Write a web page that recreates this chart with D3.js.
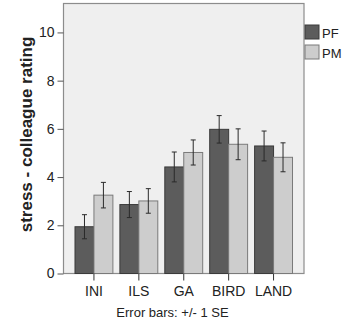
<!DOCTYPE html>
<html>
<head>
<meta charset="utf-8">
<script src="https://cdn.jsdelivr.net/npm/d3@7"></script>
<style>
  body { margin: 0; background: #fff; }
  text { font-family: "Liberation Sans", Arial, sans-serif; fill: #222; }
</style>
</head>
<body>
<svg id="chart"></svg>
<script>
const categories = ["INI", "ILS", "GA", "BIRD", "LAND"];
const groups = ["PF", "PM"];
const meanPF = [1.94, 2.86, 4.42, 5.98, 5.29];
const meanPM = [3.25, 3.01, 5.02, 5.36, 4.82];
const sePF = [0.50, 0.54, 0.62, 0.57, 0.62];
const sePM = [0.53, 0.51, 0.52, 0.64, 0.60];
const yTicks = [0, 2, 4, 6, 8, 10];

const W = 346, H = 323;
const plotL = 63.5, plotR = 304, plotT = 3.5, plotB = 273.5;

const svg = d3.select("#chart")
    .attr("width", W)
    .attr("height", H);

const x = d3.scaleBand()
    .domain(categories)
    .range([plotL, plotR])
    .paddingInner(0.156)
    .paddingOuter(0.256);

const xSub = d3.scaleBand()
    .domain(groups)
    .range([0, x.bandwidth()]);

const y = d3.scaleLinear()
    .domain([0, 11.2])
    .range([plotB, plotT]);

const fills = { PF: "#5c5c5c", PM: "#cdcdcd" };
const strokes = { PF: "#3a3a3a", PM: "#7a7a7a" };

// plot background
svg.append("rect")
    .attr("x", plotL).attr("y", plotT)
    .attr("width", plotR - plotL).attr("height", plotB - plotT)
    .attr("fill", "#efefef")
    .attr("stroke", "#8c8c8c")
    .attr("stroke-width", 1.2);

const rows = categories.map((c, i) => ({
    cat: c,
    vals: [
        { g: "PF", m: meanPF[i], se: sePF[i] },
        { g: "PM", m: meanPM[i], se: sePM[i] }
    ]
}));

const grp = svg.selectAll(".grp")
    .data(rows)
    .join("g")
    .attr("transform", d => `translate(${x(d.cat)},0)`);

grp.selectAll("rect")
    .data(d => d.vals)
    .join("rect")
    .attr("x", d => xSub(d.g))
    .attr("y", d => y(d.m))
    .attr("width", xSub.bandwidth())
    .attr("height", d => y(0) - y(d.m))
    .attr("fill", d => fills[d.g])
    .attr("stroke", d => strokes[d.g])
    .attr("stroke-width", 1);

// error bars
const eb = grp.selectAll(".eb")
    .data(d => d.vals)
    .join("g")
    .attr("class", "eb")
    .attr("stroke", "#2a2a2a")
    .attr("stroke-width", 1);

eb.append("line")
    .attr("x1", d => xSub(d.g) + xSub.bandwidth() / 2)
    .attr("x2", d => xSub(d.g) + xSub.bandwidth() / 2)
    .attr("y1", d => y(d.m - d.se))
    .attr("y2", d => y(d.m + d.se));

eb.selectAll(".cap")
    .data(d => [d.m - d.se, d.m + d.se].map(v => ({ g: d.g, v })))
    .join("line")
    .attr("x1", d => xSub(d.g) + xSub.bandwidth() / 2 - 2.5)
    .attr("x2", d => xSub(d.g) + xSub.bandwidth() / 2 + 2.5)
    .attr("y1", d => y(d.v))
    .attr("y2", d => y(d.v));

// axes
const yAxis = svg.append("g")
    .attr("transform", `translate(${plotL},0)`)
    .call(d3.axisLeft(y).tickValues(yTicks).tickSize(6).tickSizeOuter(0).tickPadding(3));
yAxis.select(".domain").remove();
yAxis.selectAll("line").attr("stroke", "#555");
yAxis.selectAll("text").attr("font-size", 14).style("fill", "#222");

const xAxis = svg.append("g")
    .attr("transform", `translate(0,${plotB})`)
    .call(d3.axisBottom(x).tickSize(7).tickSizeOuter(0).tickPadding(6));
xAxis.select(".domain").remove();
xAxis.selectAll("line").attr("stroke", "#333");
xAxis.selectAll("text").attr("font-size", 14).style("fill", "#222");

// y title
svg.append("text")
    .attr("transform", `translate(32,134.5) rotate(-90)`)
    .attr("text-anchor", "middle")
    .attr("font-size", 17)
    .attr("font-weight", "bold")
    .text("stress - colleague rating");

// footnote
svg.append("text")
    .attr("x", 172.5)
    .attr("y", 317)
    .attr("text-anchor", "middle")
    .attr("font-size", 13)
    .text("Error bars: +/- 1 SE");

// legend
const lg = svg.selectAll(".lg")
    .data(groups)
    .join("g")
    .attr("transform", (d, i) => `translate(305,${25 + i * 20})`);

lg.append("rect")
    .attr("width", 14).attr("height", 14)
    .attr("fill", d => fills[d])
    .attr("stroke", d => strokes[d]);

lg.append("text")
    .attr("x", 17).attr("y", 13)
    .attr("font-size", 13)
    .text(d => d);
</script>
</body>
</html>
